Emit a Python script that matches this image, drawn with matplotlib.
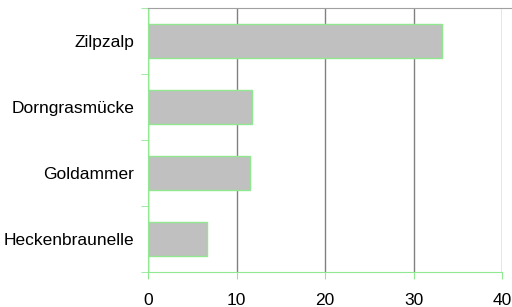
import numpy as np
import matplotlib.pyplot as plt

# Vogelarten und Anzahl
arten = ['Heckenbraunelle', 'Goldammer', 'Dorngrasmücke', 'Zilpzalp']
anzahl = [6.7, 11.5, 11.75, 33.2]
xticks = [0, 10, 20, 30, 40]

green = '#90e890'

fig = plt.figure(figsize=(5.12, 3.07), dpi=100)
ax = fig.add_axes([148/512, 35/307, 354/512, 264/307])

y = np.arange(len(arten))
ax.barh(y, anzahl, height=0.52, color='#c0c0c0', edgecolor=green, linewidth=1, zorder=3)

ax.set_xlim(0, 40)
ax.set_ylim(-0.5, len(arten) - 0.5)
ax.set_xticks(xticks)
ax.set_xticklabels([str(t) for t in xticks], fontsize=12.5, family='Liberation Sans')
ax.set_yticks(y)
ax.set_yticklabels(arten, fontsize=12.5, family='Liberation Sans')
ax.tick_params(axis='y', length=0, pad=10)
ax.set_yticks(np.arange(-0.5, len(arten)), minor=True)
ax.tick_params(axis='y', which='minor', length=5, color=green)
ax.tick_params(axis='x', length=5, color=green, pad=10)

ax.grid(axis='x', color='#808080', linewidth=1, zorder=0)
for s in ['left', 'bottom']:
    ax.spines[s].set_color(green)
ax.spines['right'].set_visible(False)
ax.spines['top'].set_color('#a0a0a0')
ax.spines['top'].set_bounds(0, 46)
ax.spines['top'].set_clip_on(False)

fig.savefig('out.png', dpi=100)
